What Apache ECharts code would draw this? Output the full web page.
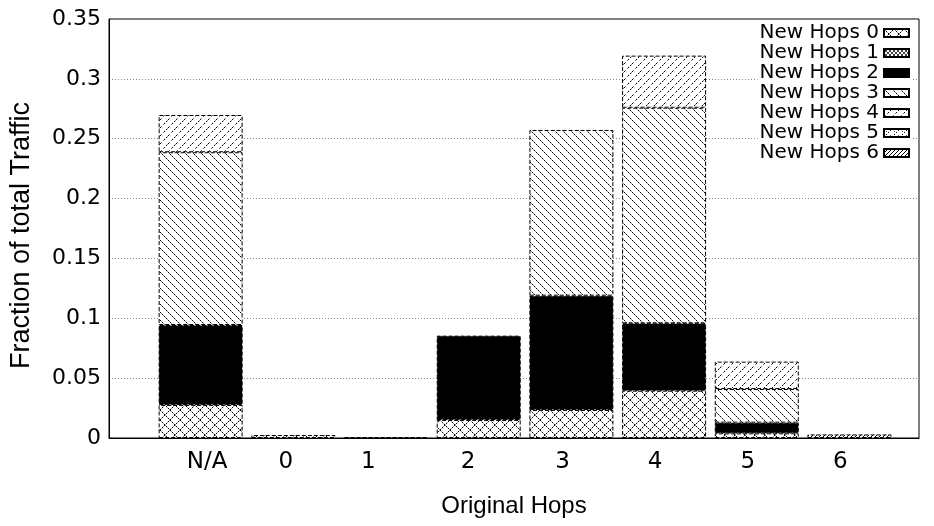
<!DOCTYPE html>
<html>
<head>
<meta charset="utf-8">
<script src="https://cdn.jsdelivr.net/npm/echarts@6/dist/echarts.min.js"></script>
<style>
  html, body { margin: 0; padding: 0; background: #fff; }
  #main { width: 934px; height: 526px; }
</style>
</head>
<body>
<div id="main"></div>
<script>
// categories (original hops) and where gnuplot put their tick labels
var cats = ['N/A', '0', '1', '2', '3', '4', '5', '6'];
var labelPos = [0.06, 0.91, 1.8, 2.88, 3.9, 4.9, 5.9, 6.9];

// fraction of total traffic for each "new hops" value, stacked per bar
var hops0 = [0.0276, 0.0025, 0, 0.015, 0.0234, 0.0395, 0.0039, 0];
var hops1 = [0, 0, 0.0008, 0, 0, 0, 0, 0];
var hops2 = [0.0668, 0, 0, 0.0705, 0.0955, 0.0563, 0.0089, 0];
var hops3 = [0.1443, 0, 0, 0, 0.1384, 0.1801, 0.0281, 0];
var hops4 = [0.0311, 0, 0, 0, 0, 0.0435, 0.0229, 0];
var hops5 = [0, 0, 0, 0, 0, 0, 0, 0];
var hops6 = [0, 0, 0, 0, 0, 0, 0, 0.003];

var yTicks = { min: 0, max: 0.35, step: 0.05 };

var font = '"Liberation Sans", Arial, sans-serif';
var wideFont = '"DejaVu Sans", sans-serif';

// small pixel patterns that look like gnuplot fill styles
function pattern(size, draw) {
    var c = document.createElement('canvas');
    c.width = c.height = size;
    var ctx = c.getContext('2d');
    ctx.fillStyle = '#fff';
    ctx.fillRect(0, 0, size, size);
    draw(ctx, size);
    return { image: c, repeat: 'repeat' };
}
function px(ctx, x, y, col) {
    ctx.fillStyle = col || '#000';
    ctx.fillRect(x, y, 1, 1);
}

var fills = [
    pattern(10, function (ctx, s) { // crosshatch
        for (var i = 0; i < s; i++) {
            var c = i % 2 ? '#999' : '#000';
            px(ctx, i, i, c); px(ctx, i, s - 1 - i, c);
        }
    }),
    pattern(4, function (ctx, s) { // dense crosshatch
        for (var i = 0; i < s; i++) { px(ctx, i, i, '#444'); px(ctx, i, s - 1 - i, '#444'); }
    }),
    '#000',
    pattern(8, function (ctx, s) { // backslash lines
        for (var i = 0; i < s; i++) { px(ctx, i, i, i % 2 ? '#888' : '#000'); }
    }),
    pattern(8, function (ctx, s) { // slash lines, dashed
        for (var i = 0; i < s; i++) { if (i % 3 != 2) px(ctx, i, s - 1 - i, i % 2 ? '#777' : '#000'); }
    }),
    pattern(8, function (ctx, s) { // slash + dots
        for (var i = 0; i < s; i++) { if (i % 2 == 0) px(ctx, i, s - 1 - i); }
        px(ctx, 2, 2, '#555'); px(ctx, 6, 6, '#555');
    }),
    pattern(4, function (ctx, s) { // dense slash
        for (var i = 0; i < s; i++) { px(ctx, i, s - 1 - i); }
    })
];

var allHops = [hops0, hops1, hops2, hops3, hops4, hops5, hops6];

// bars live in a second grid (category axis) laid over the framed plot
var series = allHops.map(function (vals, k) {
    return {
        name: 'New Hops ' + k,
        type: 'bar',
        stack: 'hops',
        xAxisIndex: 1,
        yAxisIndex: 1,
        barWidth: 84,
        itemStyle: {
            color: fills[k],
            borderColor: '#000',
            borderWidth: 1,
            borderType: [4, 2]
        },
        emphasis: { disabled: true },
        data: vals.map(function (v) {
            var d = { value: v };
            if (!v) d.itemStyle = { borderWidth: 0, opacity: 0 };
            return d;
        })
    };
});

var chart = echarts.init(document.getElementById('main'), null, { renderer: 'canvas' });

var yCommon = {
    type: 'value',
    min: yTicks.min,
    max: yTicks.max,
    interval: yTicks.step
};

var option = {
    animation: false,
    backgroundColor: '#fff',
    grid: [
        { left: 108, right: 15, top: 19, bottom: 88, show: true, borderColor: '#000', borderWidth: 1 },
        { left: 154.3, right: 38.2, top: 19, bottom: 88 }
    ],
    legend: {
        orient: 'vertical',
        right: 22,
        top: 22,
        align: 'right',
        itemWidth: 25,
        itemHeight: 8,
        itemGap: 0,
        padding: [1, 2, 1, 2],
        backgroundColor: '#fff',
        selectedMode: false,
        icon: 'rect',
        textStyle: { fontFamily: wideFont, fontSize: 20, lineHeight: 19, color: '#000' },
        data: series.map(function (s) { return s.name; })
    },
    xAxis: [{
        gridIndex: 0,
        type: 'value',
        min: -1,
        max: 7.75,
        name: 'Original Hops',
        nameLocation: 'middle',
        nameGap: 56,
        nameTextStyle: { fontFamily: font, fontSize: 24, color: '#000' },
        axisLine: { show: true, onZero: false, lineStyle: { color: '#000', width: 1 } },
        axisTick: { show: false },
        splitLine: { show: false },
        axisLabel: {
            customValues: labelPos,
            margin: 13,
            fontFamily: wideFont,
            fontSize: 23,
            color: '#000',
            formatter: function (v) {
                var i = labelPos.findIndex(function (p) { return Math.abs(p - v) < 1e-6; });
                return i >= 0 ? cats[i] : '';
            }
        }
    }, {
        gridIndex: 1,
        type: 'category',
        data: cats,
        show: false
    }],
    yAxis: [Object.assign({}, yCommon, {
        gridIndex: 0,
        name: 'Fraction of total Traffic',
        nameLocation: 'middle',
        nameGap: 74,
        nameTextStyle: { fontFamily: font, fontSize: 27, color: '#000', padding: [0, 14, 0, 0] },
        axisLine: { show: true, onZero: false, lineStyle: { color: '#000', width: 1 } },
        axisTick: { show: false },
        axisLabel: {
            margin: 8,
            fontFamily: wideFont,
            fontSize: 22,
            color: '#000',
            formatter: function (v) { return String(Math.round(v * 100) / 100); }
        },
        splitLine: { show: true, lineStyle: { color: '#888', type: [1, 2], width: 1 } }
    }), Object.assign({}, yCommon, {
        gridIndex: 1,
        show: false,
        splitLine: { show: false }
    })],
    series: series
};

chart.setOption(option);
</script>
</body>
</html>
